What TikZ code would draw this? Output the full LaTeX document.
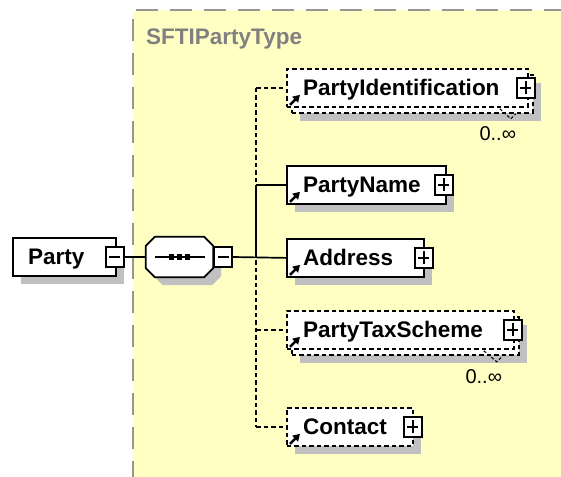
\documentclass[tikz,border=0pt]{standalone}
\usepackage{fontspec}
\setmainfont{Liberation Sans}
\usetikzlibrary{shadows,arrows.meta}
\definecolor{bgyellow}{RGB}{255,255,196}
\definecolor{shadowgray}{RGB}{192,192,192}
\definecolor{framegray}{RGB}{150,150,150}
\definecolor{titlegray}{RGB}{128,128,128}
\tikzset{
  elem/.style={draw=black, line width=1.8pt, fill=white, rectangle, inner sep=0pt, anchor=north west},
  shad/.style={drop shadow={shadow xshift=8pt, shadow yshift=-8pt, fill=shadowgray, opacity=1}},
  optbox/.style={dash pattern=on 4.5pt off 3pt},
  pmbox/.style={draw=black, line width=1.6pt, fill=white, rectangle, inner sep=0pt, minimum width=18pt, minimum height=20pt},
  minusbox/.style={pmbox, path picture={
      \draw[line width=1.6pt] ([xshift=-5.5pt]path picture bounding box.center) -- ([xshift=5.5pt]path picture bounding box.center);}},
  plusbox/.style={pmbox, path picture={
      \draw[line width=1.6pt] ([xshift=-5.5pt]path picture bounding box.center) -- ([xshift=5.5pt]path picture bounding box.center);
      \draw[line width=1.6pt] ([yshift=-6.5pt]path picture bounding box.center) -- ([yshift=6.5pt]path picture bounding box.center);}},
  lbl/.style={font=\fontsize{22.5}{26}\selectfont\bfseries, inner sep=0pt, anchor=base west},
  card/.style={font=\fontsize{20}{22}\selectfont, inner sep=0pt},
  conn/.style={line width=1.7pt},
  dconn/.style={line width=1.7pt, dash pattern=on 4.5pt off 3pt},
  refarrow/.style={-{Triangle[length=7pt,width=8pt]}, line width=2.4pt},
  cardline/.style={line width=1.1pt, dash pattern=on 3pt off 2pt},
  seqshape/.style={draw=black, line width=1.8pt, fill=white, line join=miter},
}
\begin{document}
\begin{tikzpicture}[x=1pt,y=-1pt]
\useasboundingbox (0,0) rectangle (561,476);
% complex type background
\fill[bgyellow] (133,10) rectangle (600,520);
\draw[framegray, line width=2.6pt, dash pattern=on 22pt off 12pt] (600,10) -- (133,10) -- (133,520);
\node[font=\fontsize{22.5}{26}\selectfont\bfseries, text=titlegray, inner sep=0pt, anchor=base west] (title) at (146,45) {SFTIPartyType};

% Party element
\node[elem, shad, minimum width=103pt, minimum height=38pt] (party) at (12,237) {};
\node[lbl] (partylbl) at ([shift={(16,7.5)}]party.west) {Party};
\node[minusbox] (pminus) at ([xshift=-2pt]party.east) {};

% sequence compositor
\node[minimum width=67pt, minimum height=40pt, inner sep=0pt] (seq) at (179.5,257) {};
\fill[shadowgray] ([shift={(17,8)}]seq.north west) -- ([shift={(-1,8)}]seq.north east) -- ([shift={(8,17)}]seq.north east)
   -- ([shift={(8,-1)}]seq.south east) -- ([shift={(-1,8)}]seq.south east) -- ([shift={(17,8)}]seq.south west)
   -- ([shift={(8,-1)}]seq.south west) -- ([shift={(8,17)}]seq.north west) -- cycle;
\draw[seqshape] ([shift={(9,0)}]seq.north west) -- ([shift={(-9,0)}]seq.north east) -- ([shift={(0,9)}]seq.north east)
   -- ([shift={(0,-9)}]seq.south east) -- ([shift={(-9,0)}]seq.south east) -- ([shift={(9,0)}]seq.south west)
   -- ([shift={(0,-9)}]seq.south west) -- ([shift={(0,9)}]seq.north west) -- cycle;
\draw[line width=1.6pt] ([xshift=-25pt]seq.center) -- ([xshift=25pt]seq.center);
\foreach \dx in {-8,0,8}{\fill ([xshift=\dx pt]seq.center) +(-2.8pt,-2.8pt) rectangle +(2.8pt,2.8pt);}
\node[minusbox] (seqminus) at ([xshift=10pt]seq.east) {};

% elements
\node[elem, optbox, shad, minimum width=241pt, minimum height=38pt] (pidback) at (291,74) {};
\node[elem, optbox, minimum width=241pt, minimum height=38pt] (pid) at (286,68) {};
\node[lbl] (pidlbl) at ([shift={(17,8)}]pid.west) {PartyIdentification};
\node[plusbox] (pidplus) at ([xshift=-3pt]pid.east) {};

\node[elem, shad, minimum width=159pt, minimum height=38pt] (pname) at (286,165) {};
\node[lbl] (pnamelbl) at ([shift={(17,8)}]pname.west) {PartyName};
\node[plusbox] (pnameplus) at ([xshift=-3pt]pname.east) {};

\node[elem, shad, minimum width=137pt, minimum height=38pt] (addr) at (286,238) {};
\node[lbl] (addrlbl) at ([shift={(17,8)}]addr.west) {Address};
\node[plusbox] (addrplus) at ([xshift=-1pt]addr.east) {};

\node[elem, optbox, shad, minimum width=227pt, minimum height=38pt] (ptaxback) at (291,316) {};
\node[elem, optbox, minimum width=227pt, minimum height=38pt] (ptax) at (286,310) {};
\node[lbl] (ptaxlbl) at ([shift={(17,8)}]ptax.west) {PartyTaxScheme};
\node[plusbox] (ptaxplus) at ([xshift=-2pt]ptax.east) {};

\node[elem, optbox, shad, minimum width=126pt, minimum height=38pt] (contact) at (286,407) {};
\node[lbl] (contactlbl) at ([shift={(17,8)}]contact.west) {Contact};
\node[plusbox] (contactplus) at ([xshift=-1pt]contact.east) {};

% reference arrows
\foreach \b in {pid,pname,addr,ptax,contact}{
  \draw[refarrow] ([shift={(4,-3)}]\b.south west) -- ++(10,-10);
}

% cardinalities
\draw[cardline] ([shift={(-34,-5)}]pidback.south east) -- ++(11,10) -- ++(5,-5);
\node[card] (pidcard) at ([shift={(-36,20)}]pidback.south east) {0..∞};
\draw[cardline] ([shift={(-36,-5)}]ptaxback.south east) -- ++(13,11) -- ++(5,-5);
\node[card] (ptaxcard) at ([shift={(-36,21)}]ptaxback.south east) {0..∞};

% connectors
\coordinate (tr) at (256,257);
\draw[dconn] (tr |- pid.west) -- (tr |- contact.west);
\draw[dconn] (tr |- pid.west) -- (pid.west);
\draw[dconn] (tr |- ptax.west) -- (ptax.west);
\draw[dconn] (tr |- contact.west) -- (contact.west);
\draw[conn] (tr |- pname.west) -- (tr);
\draw[conn] (tr |- pname.west) -- (pname.west);
\draw[conn] (pminus.east) -- (seq.west);
\draw[conn] (seqminus.east) -- (addr.west);
\end{tikzpicture}
\end{document}
